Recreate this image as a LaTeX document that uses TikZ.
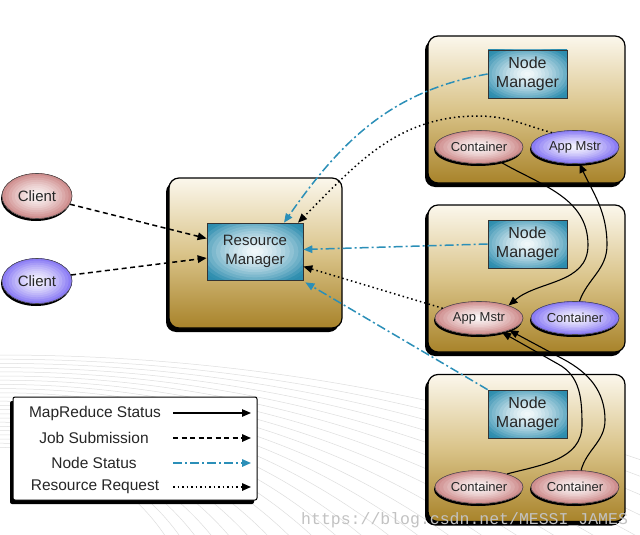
\documentclass[tikz,border=0pt]{standalone}
\usepackage{fontspec}
\setmainfont{Liberation Sans}
\newfontfamily\wmfont{Liberation Mono}
\usetikzlibrary{shapes.geometric,arrows.meta,shadows,calc}
\definecolor{goldtop}{HTML}{FBF7EC}
\definecolor{goldmid}{HTML}{DAC48A}
\definecolor{goldbot}{HTML}{A8832A}
\definecolor{tealedge}{HTML}{2C8CAE}
\definecolor{redout}{HTML}{BA5C5C}
\definecolor{purout}{HTML}{5842F0}
\definecolor{nsblue}{HTML}{2B8FB8}
\definecolor{txt}{HTML}{262626}
\tikzset{
  glow/.style={path picture={
    \path let \p1=($(path picture bounding box.north east)-(path picture bounding box.center)$) in \pgfextra{\xdef\gw{\x1}\xdef\gh{\y1}};
    \foreach \k in {0,...,15} {
      \pgfmathsetmacro\gt{1-\k/16}
      \pgfmathtruncatemacro\pc{min(100,6+112*\gt^1.5)}
      \fill[#1!\pc!white] (path picture bounding box.center) ellipse [x radius={1.45*\gt*abs(\gw)}, y radius={1.45*\gt*abs(\gh)}];
    }
  }},
  blackshadow/.style={drop shadow={shadow xshift=-3pt,shadow yshift=-4pt,opacity=1,fill=black}},
  goldbox/.style={draw=black,line width=1.2pt,rounded corners=10pt,top color=goldtop,bottom color=goldbot,middle color=goldmid,blackshadow,inner sep=0pt},
  tealbox/.style={draw=black!80,line width=0.7pt,fill=tealedge,glow=tealedge,inner sep=0pt,align=center,text=txt},
  ell/.style={ellipse,draw=black!70,line width=0.6pt,inner sep=0pt,text=txt,drop shadow={shadow xshift=-1pt,shadow yshift=-2.5pt,opacity=1,fill=black}},
  smallell/.style={ell,minimum width=88pt,minimum height=33pt,font=\fontsize{13}{15}\selectfont},
  redell/.style={smallell,fill=redout,glow=redout},
  purell/.style={smallell,fill=purout,glow=purout},
  clientell/.style={ell,minimum width=70pt,minimum height=45pt,font=\fontsize{15}{17}\selectfont},
  legendbox/.style={draw=black,line width=1pt,fill=white,rounded corners=2pt,blackshadow,inner sep=0pt},
  lgtext/.style={text=txt,font=\fontsize{15.5}{17}\selectfont},
  tip/.style={-{Triangle[length=9pt,width=7.5pt]}},
  mrs/.style={tip,line width=1.1pt,draw=black},
  jobs/.style={tip,line width=1.5pt,dash pattern=on 5pt off 3.5pt,draw=black},
  nstat/.style={-{Triangle[length=9pt,width=7.5pt,fill=nsblue]},line width=1.5pt,dash pattern=on 9pt off 3pt on 2pt off 3pt,draw=nsblue,color=nsblue},
  resreq/.style={tip,line width=1.5pt,dash pattern=on 1.5pt off 3pt,draw=black},
  bgline/.style={draw=black!13,line width=0.5pt}
}
\begin{document}
\begin{tikzpicture}[x=1pt,y=-1pt]
\useasboundingbox (0,0) rectangle (640,535);
\fill[white] (0,0) rectangle (640,535);
% background arcs
\begin{scope}
  \clip (0,335) rectangle (640,535);
  \foreach \i in {0,...,22} {
    \pgfmathsetmacro\yt{355+4.2*\i}
    \pgfmathsetmacro\rr{2000*exp(-(\yt-355)/40)}
    \draw[bgline] (0,\yt+\rr) circle (\rr);
  }
\end{scope}

% containers
\node[goldbox,minimum width=173pt,minimum height=150pt] (rmbox) at (255.5,253) {};
\node[goldbox,minimum width=197pt,minimum height=147pt] (box1) at (526.5,109.5) {};
\node[goldbox,minimum width=197pt,minimum height=147pt] (box2) at (526.5,278.5) {};
\node[goldbox,minimum width=197pt,minimum height=147pt] (box3) at (526.5,448) {};

% inner nodes
\node[tealbox,minimum width=96pt,minimum height=57pt,font=\fontsize{15}{18.5}\selectfont] (rm) at (255,251.5) {Resource\\Manager};
\node[tealbox,minimum width=79pt,minimum height=48pt,font=\fontsize{16}{18.5}\selectfont] (nm1) at (527.5,74) {Node\\Manager};
\node[tealbox,minimum width=79pt,minimum height=48pt,font=\fontsize{16}{18.5}\selectfont] (nm2) at (527.5,244) {Node\\Manager};
\node[tealbox,minimum width=79pt,minimum height=48pt,font=\fontsize{16}{18.5}\selectfont] (nm3) at (527.5,414) {Node\\Manager};

\node[redell] (c1) at (479,147) {Container};
\node[purell] (a1) at (575,147) {App Mstr};
\node[redell] (a2) at (479,318) {App Mstr};
\node[purell] (c2) at (575,318) {Container};
\node[redell] (c3a) at (479,487) {Container};
\node[redell] (c3b) at (575,487) {Container};

\node[clientell,fill=redout,glow=redout] (cl1) at (37,196) {Client};
\node[clientell,fill=purout,glow=purout] (cl2) at (37,281) {Client};

% legend
\node[legendbox,minimum width=244pt,minimum height=103pt] (legend) at (135,448.5) {};
\node[lgtext] (l1) at (95,413) {MapReduce Status};
\node[lgtext] (l2) at (94,438) {Job Submission};
\node[lgtext] (l3) at (94,463) {Node Status};
\node[lgtext] (l4) at (95,487) {Resource Request};
\coordinate (l1s) at (173,413); \coordinate (l1e) at (251,413);
\coordinate (l2s) at (173,438); \coordinate (l2e) at (251,438);
\coordinate (l3s) at (173,463); \coordinate (l3e) at (251,463);
\coordinate (l4s) at (173,487); \coordinate (l4e) at (251,487);
\draw[mrs] (l1s) -- (l1e);
\draw[jobs] (l2s) -- (l2e);
\draw[nstat] (l3s) -- (l3e);
\draw[resreq] (l4s) -- (l4e);

% job submission
\draw[jobs] (cl1.-14) -- ([yshift=13pt]rm.west);
\draw[jobs] (cl2.10) -- ([yshift=-6.5pt]rm.west);

% node status
\draw[nstat] (nm1.west) to[out=190,in=55] ([xshift=29pt]rm.north);
\draw[nstat] (nm2.west) -- ([yshift=2pt]rm.east);
\draw[nstat] (nm3.north west) -- ([xshift=2pt,yshift=-2pt]rm.south east);

% resource request
\draw[resreq] (a1.148) to[out=165,in=0] (478,116) to[out=180,in=45] ([xshift=43pt]rm.north);
\draw[resreq] (a2.165) -- ([yshift=-15pt]rm.east);

% mapreduce status
\draw[mrs] (c1.-35) to[out=-30,in=90] (588,245) to[out=-90,in=40] (a2.23);
\draw[mrs] (c2.75) to[out=70,in=-90] (607,245) to[out=90,in=-65] (a1.-75);
\draw[mrs] (c3a.25) to[out=15,in=-90] (582,425) to[out=90,in=-28] (558,364) -- (a2.-32);
\draw[mrs] (c3b.70) to[out=75,in=-90] (605,420) to[out=90,in=-28] (563,359) -- (a2.-22);

% watermark
\node[anchor=base west,inner sep=0pt,text=black!24,font=\wmfont\fontsize{16.5}{16.5}\selectfont] (wm) at (301,524) {https://blog.csdn.net/MESSI\_JAMES};
\end{tikzpicture}
\end{document}
